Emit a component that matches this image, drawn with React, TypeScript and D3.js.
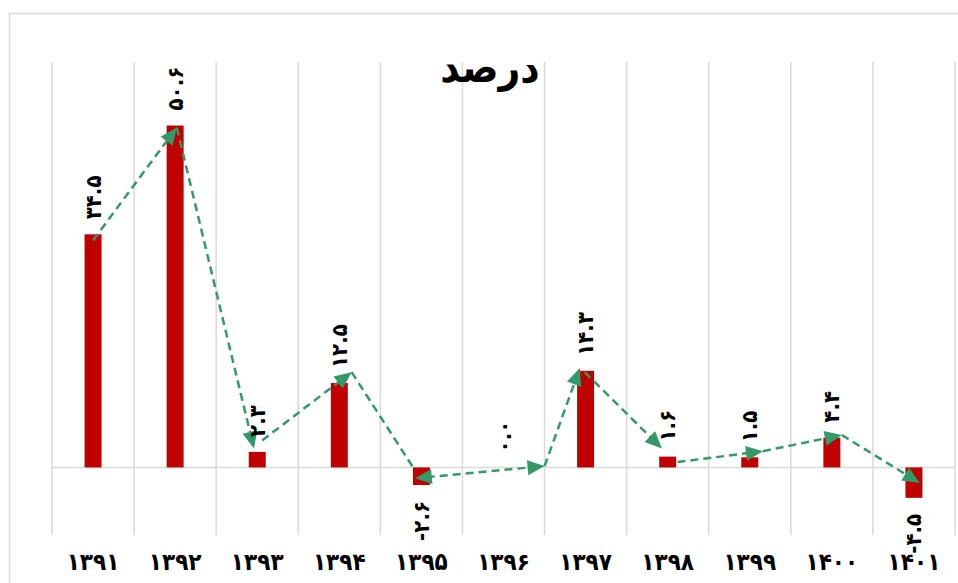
import React from "react";
import * as d3 from "d3";

const categories = ["۱۳۹۱", "۱۳۹۲", "۱۳۹۳", "۱۳۹۴", "۱۳۹۵", "۱۳۹۶", "۱۳۹۷", "۱۳۹۸", "۱۳۹۹", "۱۴۰۰", "۱۴۰۱"];
const values = [34.5, 50.6, 2.3, 12.5, -2.6, 0.0, 14.3, 1.6, 1.5, 4.4, -4.5];
const valueLabels = ["۳۴.۵", "۵۰.۶", "۲.۳", "۱۲.۵", "-۲.۶", "۰.۰", "۱۴.۳", "۱.۶", "۱.۵", "۴.۴", "-۴.۵"];
const title = "درصد";
// hand-drawn trend arrows (category units / value units)
const segStartPos = [0.0, 1.02, 2.06, 3.15, 3.92, 5.5, 5.99, 7.12, 8.16, 9.12];
const segStartVal = [33.6, 50.3, 4.0, 14.1, -1.6, 0.2, 14.1, 0.8, 2.4, 4.8];
const segEndPos = [1.02, 1.96, 3.15, 3.92, 5.5, 5.93, 6.93, 8.16, 9.12, 10.07];
const segEndVal = [50.3, 2.8, 14.1, -0.4, 0.2, 14.7, 2.8, 2.4, 4.8, -2.3];
const segHeadEnd = [true, true, true, false, true, true, true, true, true, true];
const segHeadStart = [false, false, false, false, true, false, false, false, false, false];

const W = 958;
const H = 583;
const plot = { left: 52, right: 955, top: 62, bottom: 535 };

type P = [number, number];

export default function App() {
  const x = d3.scaleBand<string>().domain(categories).range([plot.left, plot.right]).padding(0);
  const y = d3.scaleLinear().domain([-10, 60]).range([plot.bottom, plot.top]);
  const bw = x.bandwidth();
  const barW = 17;
  const cx = (p: number) => plot.left + bw * (p + 0.5);

  const green = "#339966";
  const red = "#C00000";
  const grid = "#d9d9d9";

  const arrow = (from: P, to: P, key: string) => {
    const ang = Math.atan2(to[1] - from[1], to[0] - from[0]);
    const L = 17;
    const Wd = 7.5;
    const bx = to[0] - L * Math.cos(ang);
    const by = to[1] - L * Math.sin(ang);
    const px = -Math.sin(ang) * Wd;
    const py = Math.cos(ang) * Wd;
    const d = `M${to[0]},${to[1]}L${bx + px},${by + py}L${bx - px},${by - py}Z`;
    return <path key={key} d={d} fill={green} />;
  };

  const shorten = (a: P, b: P, s0: number, s1: number): P[] => {
    const dx = b[0] - a[0];
    const dy = b[1] - a[1];
    const len = Math.hypot(dx, dy);
    const ux = dx / len;
    const uy = dy / len;
    return [
      [a[0] + ux * s0, a[1] + uy * s0],
      [b[0] - ux * s1, b[1] - uy * s1],
    ];
  };

  const font = "'DejaVu Sans Condensed', 'DejaVu Sans', sans-serif";

  return (
    <svg width={W} height={H} style={{ position: "absolute", left: 0, top: 0, background: "#fff" }}>
      <rect x={9.5} y={13.5} width={1000} height={700} fill="#fff" stroke={grid} strokeWidth={1.5} />
      {d3.range(categories.length + 1).map((i) => {
        const gx = plot.left + bw * i;
        return <line key={i} x1={gx} x2={gx} y1={plot.top} y2={plot.bottom} stroke={grid} strokeWidth={1.5} />;
      })}
      <line x1={plot.left} x2={plot.right} y1={y(0)} y2={y(0)} stroke={grid} strokeWidth={1.5} />
      {values.map((v, i) => {
        const c = (x(categories[i]) ?? 0) + bw / 2;
        return (
          <rect
            key={i}
            x={c - barW / 2}
            width={barW}
            y={Math.min(y(v), y(0))}
            height={Math.abs(y(v) - y(0))}
            fill={red}
          />
        );
      })}
      {segStartPos.map((sp, i) => {
        const a0: P = [cx(sp), y(segStartVal[i])];
        const b0: P = [cx(segEndPos[i]), y(segEndVal[i])];
        const [a, b] = shorten(a0, b0, segHeadStart[i] ? 12 : 0, segHeadEnd[i] ? 12 : 0);
        return (
          <g key={i}>
            <line
              x1={a[0]}
              y1={a[1]}
              x2={b[0]}
              y2={b[1]}
              stroke={green}
              strokeWidth={2.5}
              strokeDasharray="8,5"
            />
            {segHeadEnd[i] && arrow(a0, b0, "e")}
            {segHeadStart[i] && arrow(b0, a0, "s")}
          </g>
        );
      })}
      {values.map((v, i) => {
        const c = (x(categories[i]) ?? 0) + bw / 2;
        const pos = v >= 0;
        const ly = pos ? y(v) - 15 : y(v) + 16;
        return (
          <text
            key={i}
            transform={`translate(${c},${ly}) rotate(-90)`}
            textAnchor={pos ? "start" : "end"}
            dominantBaseline="central"
            fontFamily={font}
            fontWeight="bold"
            fontSize={22}
            fill="#000"
          >
            {valueLabels[i]}
          </text>
        );
      })}
      {categories.map((c) => (
        <text
          key={c}
          x={(x(c) ?? 0) + bw / 2}
          y={562}
          textAnchor="middle"
          dominantBaseline="central"
          fontFamily={font}
          fontWeight="bold"
          fontSize={24}
          fill="#000"
        >
          {c}
        </text>
      ))}
      <text
        x={490}
        y={67}
        textAnchor="middle"
        dominantBaseline="central"
        fontFamily={font}
        fontWeight="bold"
        fontSize={42}
        fill="#000"
      >
        {title}
      </text>
    </svg>
  );
}
